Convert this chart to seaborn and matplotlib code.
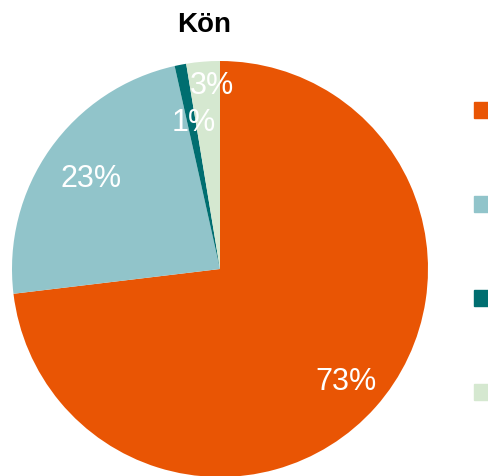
import numpy as np
import matplotlib
matplotlib.use("Agg")
import matplotlib.pyplot as plt
import matplotlib.patches as mpatches
import seaborn as sns

sns.set_style("white")
plt.rcParams["font.family"] = ["Liberation Sans", "DejaVu Sans"]

# data
categories = ["Kvinna", "Man", "Annat", "Vill ej svara"]
shares = [73.1, 23.4, 0.9, 2.6]
colors = ["#E95504", "#91C4CA", "#006E70", "#D5E8D0"]

# label placement: distance from centre (share of radius), position within wedge (clockwise)
label_dist = [0.81, 0.76, 0.72, 0.885]
label_frac = [0.5, 0.5, 0.8, 0.74]

W, H = 489, 477
fig = plt.figure(figsize=(W / 100, H / 100), dpi=100)
ax = fig.add_axes([0, 0, 1, 1])

cx, cy, r = 220, H - 270, 208
wedges, texts, autotexts = ax.pie(
    shares, colors=colors, startangle=90, counterclock=False,
    center=(cx, cy), radius=r, autopct="%1.0f%%", frame=True,
    wedgeprops=dict(linewidth=0),
    textprops=dict(color="white", fontsize=22),
)
ax.set_xlim(0, W)
ax.set_ylim(0, H)
ax.set_aspect("equal")
ax.axis("off")

for w, t, d, f in zip(wedges, autotexts, label_dist, label_frac):
    ang = np.deg2rad(w.theta2 - f * (w.theta2 - w.theta1))
    t.set_position((cx + d * r * np.cos(ang), cy + d * r * np.sin(ang)))

fig.text(204 / W, 1 - 25 / H, "Kön", ha="center", va="center",
         fontsize=20, fontweight="bold", color="black")

# legend labels fall outside the canvas in the original, only the swatches show
handles = [mpatches.Patch(color=c, label="") for c in colors]
fig.legend(handles=handles, loc="upper left",
           bbox_to_anchor=(474 / W, 1 - 103 / H), bbox_transform=fig.transFigure,
           frameon=False, fontsize=13, handlelength=1.0, handleheight=1.0,
           labelspacing=4.2, borderpad=0, borderaxespad=0, handletextpad=0.5)

fig.savefig("out.png", dpi=100)
